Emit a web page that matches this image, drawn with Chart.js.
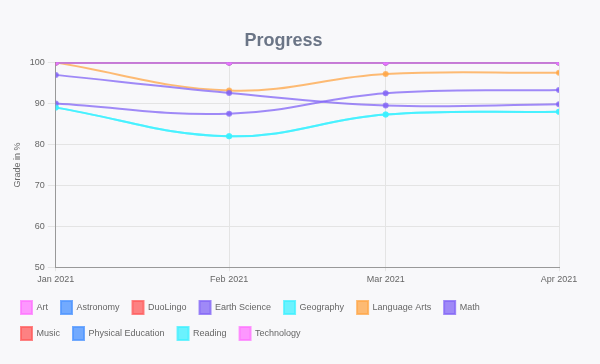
<!DOCTYPE html>
<html>
<head>
<meta charset="utf-8">
<script src="https://cdn.jsdelivr.net/npm/chart.js@4"></script>
<style>
  html, body { margin: 0; padding: 0; background: #f8f8fa; }
  #wrap { width: 600px; height: 364px; }
</style>
</head>
<body>
<div id="wrap"><canvas id="progress"></canvas></div>
<script>
// x axis is a time axis: days since 1 Jan 2021
const months = ['Jan 2021', 'Feb 2021', 'Mar 2021', 'Apr 2021'];
const monthDays = [0, 31, 59, 90];

const art = [100, 100, 100, 100];
const astronomy = [100, 100, 100, 100];
const duoLingo = [100, 100, 100, 100];
const earthScience = [97, 92.6, 89.5, 89.8];
const geography = [89, 82, 87.3, 88];
const languageArts = [100, 93.2, 97.2, 97.5];
const math = [90, 87.5, 92.5, 93.3];
const music = [100, 100, 100, 100];
const physicalEducation = [100, 100, 100, 100];
const reading = [89, 82, 87.3, 88];
const technology = [100, 100, 100, 100];

const yTicks = [50, 60, 70, 80, 90, 100];

const palette = {
    pink: 'rgba(255, 110, 255, 0.7)',
    blue: 'rgba(80, 150, 255, 0.8)',
    red: 'rgba(255, 90, 90, 0.75)',
    purple: 'rgba(130, 100, 245, 0.75)',
    cyan: 'rgba(60, 240, 255, 0.75)',
    orange: 'rgba(255, 165, 70, 0.75)'
};

function series(label, values, color) {
    return {
        label,
        data: values.map((v, i) => ({ x: monthDays[i], y: v })),
        borderColor: color,
        backgroundColor: color,
        pointBackgroundColor: color,
        pointBorderColor: color,
        pointRadius: 2,
        borderWidth: 2,
        tension: 0.4
    };
}

// legend in the original breaks after "Math"; trailing blanks push "Music" to row 2
const rowEnd = 'Math';
function legendLabels(chart) {
    const items = Chart.defaults.plugins.legend.labels.generateLabels(chart);
    items.forEach(it => { if (it.text === rowEnd) it.text = it.text + '          '; });
    return items;
}

new Chart(document.getElementById('progress'), {
    type: 'line',
    data: {
        datasets: [
            series('Art', art, palette.pink),
            series('Astronomy', astronomy, palette.blue),
            series('DuoLingo', duoLingo, palette.red),
            series('Earth Science', earthScience, palette.purple),
            series('Geography', geography, palette.cyan),
            series('Language Arts', languageArts, palette.orange),
            series('Math', math, palette.purple),
            series('Music', music, palette.red),
            series('Physical Education', physicalEducation, palette.blue),
            series('Reading', reading, palette.cyan),
            series('Technology', technology, palette.pink)
        ]
    },
    options: {
        responsive: true,
        maintainAspectRatio: false,
        animation: false,
        layout: { padding: { left: 8, right: 41, top: 30, bottom: 14 } },
        plugins: {
            title: {
                display: true,
                text: 'Progress',
                color: '#6b7586',
                font: { family: 'Helvetica, Arial, sans-serif', size: 18, weight: 'bold' },
                padding: { top: 0, bottom: 11 }
            },
            legend: {
                position: 'bottom',
                align: 'start',
                labels: {
                    boxWidth: 11,
                    boxHeight: 13,
                    padding: 13,
                    color: '#666',
                    font: { family: 'Helvetica, Arial, sans-serif', size: 9 },
                    generateLabels: legendLabels
                }
            }
        },
        scales: {
            x: {
                type: 'linear',
                min: monthDays[0],
                max: monthDays[monthDays.length - 1],
                afterBuildTicks: axis => { axis.ticks = monthDays.map(v => ({ value: v })); },
                grid: { color: '#e4e4e4', tickLength: 4 },
                border: { color: '#999' },
                ticks: {
                    color: '#666',
                    font: { size: 9 },
                    maxRotation: 0,
                    callback: v => months[monthDays.indexOf(v)]
                }
            },
            y: {
                min: yTicks[0],
                max: yTicks[yTicks.length - 1],
                afterBuildTicks: axis => { axis.ticks = yTicks.map(v => ({ value: v })); },
                grid: { color: '#e4e4e4' },
                border: { color: '#999' },
                ticks: { color: '#666', font: { size: 9 } },
                title: { display: true, text: 'Grade in %', color: '#666', font: { size: 9 } }
            }
        }
    }
});
</script>
</body>
</html>
